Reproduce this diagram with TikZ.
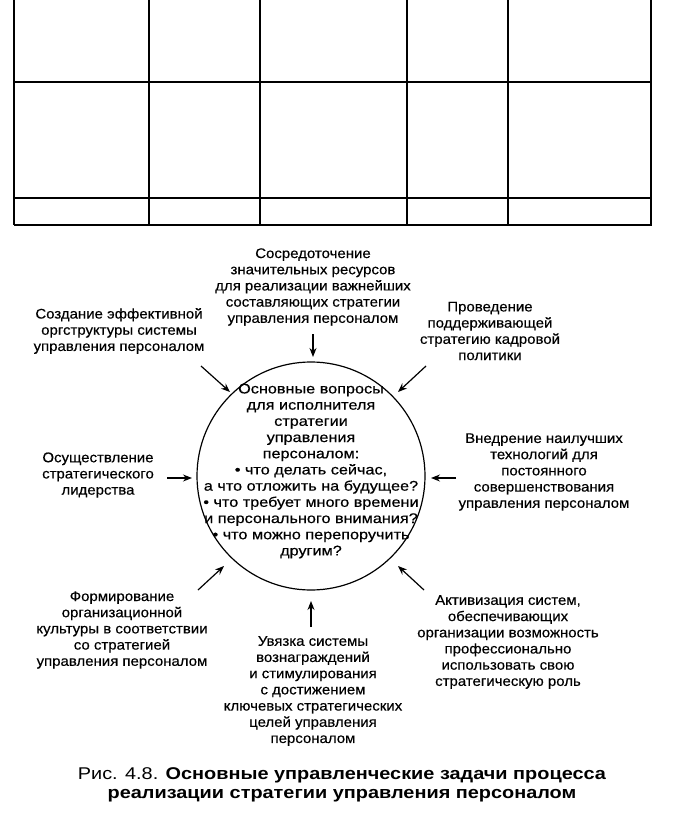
\documentclass[tikz,border=0pt]{standalone}
\usepackage{fontspec}
\setmainfont{Liberation Sans}
\newfontfamily\outerfont[FakeStretch=1.07,FakeBold=0.4]{Liberation Sans}
\newfontfamily\innerfont[FakeStretch=1.16,FakeBold=0.5]{Liberation Sans}
\newfontfamily\capfont[FakeStretch=1.17]{Liberation Sans}
\usetikzlibrary{arrows.meta}
\begin{document}
\begin{tikzpicture}[x=1pt,y=-1pt,
  lbl/.style={align=center,inner sep=0pt,font=\outerfont\fontsize{14}{16.2}\selectfont},
  arr/.style={line width=1.2pt,-{Stealth[length=9pt,width=7pt]}},
  grid/.style={line width=1.6pt}]
\useasboundingbox (0,0) rectangle (680,824);
% table
\draw[grid] (14,82) -- (652,82);
\draw[grid] (14,198) -- (652,198);
\draw[grid] (14,225) -- (652,225);
\foreach \x in {14,149,260,407,508,651} \draw[grid] (\x,0) -- (\x,225);
% circle
\node[circle,draw,line width=1.2pt,minimum size=228pt,inner sep=0pt] (circ) at (311,476) {};
\node[align=center,inner sep=0pt,font=\innerfont\fontsize{14}{16.2}\selectfont] (ctext) at (311,471) {Основные вопросы\\для исполнителя\\стратегии\\управления\\персоналом:\\• что делать сейчас,\\а что отложить на будущее?\\• что требует много времени\\и персонального внимания?\\• что можно перепоручить\\другим?};
% outer texts
\node[lbl] (t1) at (313,287) {Сосредоточение\\значительных ресурсов\\для реализации важнейших\\составляющих стратегии\\управления персоналом};
\node[lbl] (t2) at (119,331) {Создание эффективной\\оргструктуры системы\\управления персоналом};
\node[lbl] (t3) at (490,331) {Проведение\\поддерживающей\\стратегию кадровой\\политики};
\node[lbl] (t4) at (98,475) {Осуществление\\стратегического\\лидерства};
\node[lbl] (t5) at (544,472) {Внедрение наилучших\\технологий для\\постоянного\\совершенствования\\управления персоналом};
\node[lbl] (t6) at (122,630) {Формирование\\организационной\\культуры в соответствии\\со стратегией\\управления персоналом};
\node[lbl] (t7) at (508,642) {Активизация систем,\\обеспечивающих\\организации возможность\\профессионально\\использовать свою\\стратегическую роль};
\node[lbl] (t8) at (313,691) {Увязка системы\\вознаграждений\\и стимулирования\\с достижением\\ключевых стратегических\\целей управления\\персоналом};
% arrows
\coordinate (a1s) at (313,334); \coordinate (a1e) at (313,357);
\coordinate (a2s) at (201,366); \coordinate (a2e) at (230,392);
\coordinate (a3s) at (426,366); \coordinate (a3e) at (398,392);
\coordinate (a4s) at (167,478); \coordinate (a4e) at (192,478);
\coordinate (a5s) at (456,478); \coordinate (a5e) at (431,478);
\coordinate (a6s) at (198,590); \coordinate (a6e) at (224,566);
\coordinate (a7s) at (424,590); \coordinate (a7e) at (398,566);
\coordinate (a8s) at (311,627); \coordinate (a8e) at (311,601);
\foreach \i in {1,...,8} \draw[arr] (a\i s) -- (a\i e);
% caption
\node[align=center,inner sep=0pt,font=\capfont\fontsize{17}{19}\selectfont] (cap) at (342,785)
  {Рис. 4.8. \textbf{Основные управленческие задачи процесса}\\\textbf{реализации стратегии управления персоналом}};
\end{tikzpicture}
\end{document}
